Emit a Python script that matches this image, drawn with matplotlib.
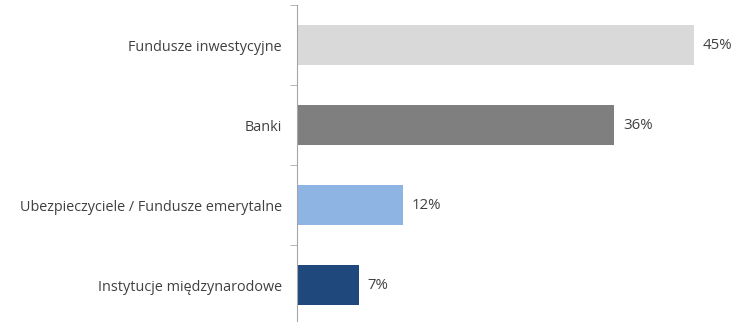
import matplotlib.pyplot as plt
import numpy as np

categories = ['Fundusze inwestycyjne', 'Banki',
              'Ubezpieczyciele / Fundusze emerytalne', 'Instytucje międzynarodowe']
values = [45, 36, 12, 7]
colors = ['#D9D9D9', '#7F7F7F', '#8EB4E3', '#1F497D']

plt.rcParams['font.family'] = ['Open Sans', 'DejaVu Sans']

fig = plt.figure(figsize=(7.47, 3.22), dpi=100)
ax = fig.add_axes([0.3976, 0.0, 0.59, 0.984])

y = np.arange(len(categories))
ax.barh(y, values, height=0.5, color=colors)
for yi, v in zip(y, values):
    ax.text(v + 1.0, yi, f'{v}%', va='center', ha='left', fontsize=10.8, color='#404040')

ax.set_xlim(0, 50)
ax.set_ylim(3.46, -0.5)
ax.set_yticks(y)
ax.set_yticklabels(categories, fontsize=10.4, color='#404040')
ax.tick_params(axis='y', which='major', length=0, pad=11)
ax.set_yticks(np.arange(-0.5, 3.5, 1), minor=True)
ax.tick_params(axis='y', which='minor', length=5, color='#A6A6A6', direction='out')
ax.set_xticks([])
for s in ['top', 'right', 'bottom']:
    ax.spines[s].set_visible(False)
ax.spines['left'].set_color('#A6A6A6')

fig.savefig('out.png', dpi=100)
